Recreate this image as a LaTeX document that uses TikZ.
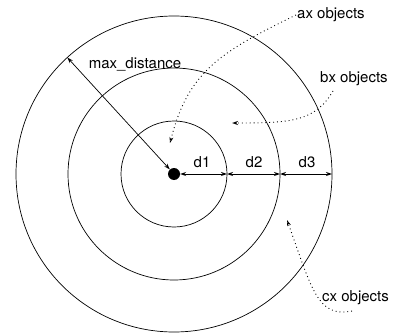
\documentclass[tikz,border=0pt]{standalone}
\usepackage{fontspec}
\setmainfont{TeX Gyre Heros}
\usetikzlibrary{arrows.meta}
\begin{document}
\begin{tikzpicture}[x=1pt,y=-1pt,
  ring/.style={draw,line width=0.7pt},
  tip/.tip={Stealth[open,length=6pt,width=4pt]},
  dim/.style={line width=0.7pt,{tip}-{tip}},
  lead/.style={line width=0.9pt,dash pattern=on 0.9pt off 3pt,-{tip[line width=0.6pt]}},
  lbl/.style={font=\fontsize{15}{18}\selectfont,inner sep=1pt}]
\useasboundingbox (0,0) rectangle (393,334);
\coordinate (c) at (174,174);
\draw[ring] (c) circle[radius=53];
\draw[ring] (c) circle[radius=106];
\draw[ring] (c) circle[radius=158];
\node[circle,fill,minimum size=12pt,inner sep=0pt] (dot) at (c) {};
\coordinate (e1) at (227,174);
\coordinate (e2) at (280,174);
\coordinate (e3) at (332,174);
\coordinate (m) at (67.3,57.5);
\draw[dim] (dot) -- (m);
\draw[dim] (dot.east) -- (e1);
\draw[dim] (e1) -- (e2);
\draw[dim] (e2) -- (e3);
\node[lbl] (md) at (135,64) {max\_distance};
\node[lbl] (d1) at (202,162) {d1};
\node[lbl] (d2) at (254,162) {d2};
\node[lbl] (d3) at (307,162) {d3};
\node[lbl,anchor=west] (ax) at (296,15) {ax objects};
\node[lbl,anchor=west] (bx) at (319,79) {bx objects};
\node[lbl,anchor=west] (cx) at (321,298) {cx objects};
\coordinate (ta) at (170,143);
\coordinate (tb) at (232,123);
\coordinate (tc) at (287,220);
\coordinate (sb) at (333,91);
\coordinate (sc) at (352,311);
\draw[lead] (ax.west) .. controls (220,52) and (188,72) .. (ta);
\draw[lead] (sb) .. controls (315,122) and (290,123) .. (tb);
\draw[lead] (sc) .. controls (318,318) and (312,290) .. (tc);
\end{tikzpicture}
\end{document}
